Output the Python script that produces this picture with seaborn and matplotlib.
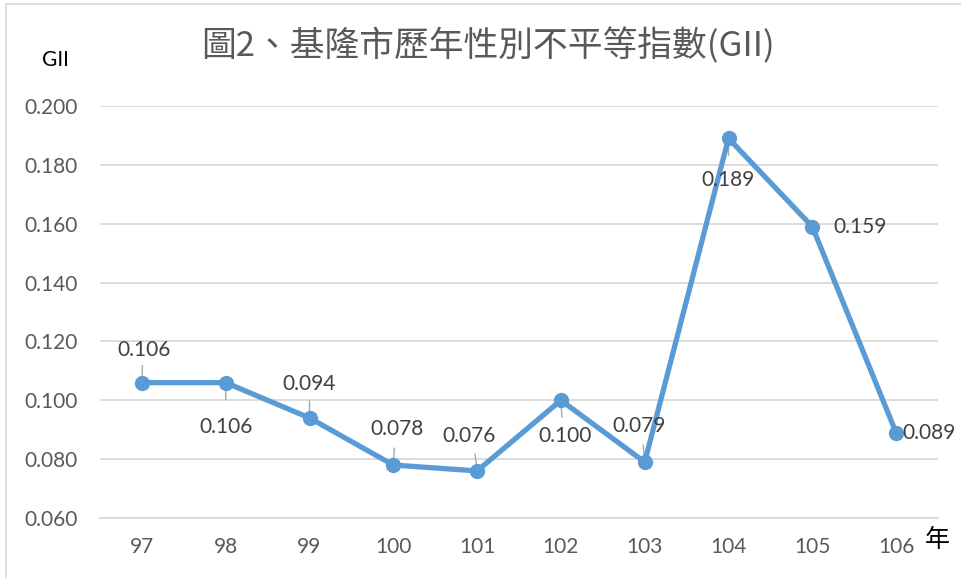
import matplotlib
matplotlib.use("Agg")
import matplotlib.pyplot as plt
import seaborn as sns
import pandas as pd
from matplotlib.lines import Line2D

years = ["97", "98", "99", "100", "101", "102", "103", "104", "105", "106"]
gii = [0.106, 0.106, 0.094, 0.078, 0.076, 0.100, 0.079, 0.189, 0.159, 0.089]
yticks = [0.060, 0.080, 0.100, 0.120, 0.140, 0.160, 0.180, 0.200]
title = "圖2、基隆市歷年性別不平等指數(GII)"

sns.set_theme(style="white")
plt.rcParams['font.family'] = ['Lato', 'Noto Sans CJK TC', 'DejaVu Sans']

df = pd.DataFrame({"year": years, "gii": gii})

fig = plt.figure(figsize=(9.62, 5.78), dpi=100)
W, H = 962, 578
ax = fig.add_axes([100 / W, 1 - 518 / H, 838 / W, 412 / H])

line_color = "#5B9BD5"
sns.lineplot(data=df, x="year", y="gii", ax=ax, color=line_color, linewidth=3.8,
             marker="o", markersize=11, markeredgewidth=0, sort=False)

ax.set_xlim(-0.5, len(years) - 0.5)
ax.set_ylim(0.060, 0.200)
ax.set_yticks(yticks)
ax.set_yticklabels([f"{v:.3f}" for v in yticks])
ax.yaxis.grid(True, color="#D9D9D9", linewidth=1.3)
ax.xaxis.grid(False)
for s in ["top", "right", "left"]:
    ax.spines[s].set_visible(False)
ax.spines["bottom"].set_color("#D9D9D9")
ax.spines["bottom"].set_linewidth(1.3)
ax.tick_params(axis="both", length=0, labelsize=15, labelcolor="#595959")
ax.tick_params(axis="y", pad=16)
ax.tick_params(axis="x", pad=14)
ax.set_xlabel("")
ax.set_ylabel("")

# data label offsets in pixels (dx, dy) relative to the point; positive dy = up
offsets = [(2, 33), (0, -44), (0, 34), (4, 36), (-8, 35), (4, -36), (-6, 36), (0, -42), (48, 0), (33, 0)]
leaders = [True, True, True, True, True, True, True, True, False, False]
to_pts = 72 / 100
for i, (v, (dx, dy), ld) in enumerate(zip(gii, offsets, leaders)):
    ax.annotate(f"{v:.3f}", xy=(i, v), xytext=(dx * to_pts, dy * to_pts),
                textcoords="offset points", ha="center", va="center",
                fontsize=15, color="#404040", zorder=5)
    if ld:
        sgn = 1 if dy > 0 else -1
        ax.annotate("", xy=(i, v), xytext=(dx * 0.25 * to_pts, sgn * 17 * to_pts),
                    textcoords="offset points",
                    arrowprops=dict(arrowstyle="-", color="#A6A6A6", lw=1.0,
                                    shrinkA=0, shrinkB=0), zorder=1)

fig.text(488 / W, 1 - 46 / H, title, ha="center", va="center", fontsize=25,
         color="#595959", family=['Noto Sans CJK TC', 'DejaVu Sans'])
fig.text(55 / W, 1 - 60 / H, "GII", ha="center", va="center", fontsize=15, color="#000000")
fig.text(937 / W, 1 - 540 / H, "年", ha="center", va="center", fontsize=18,
         color="#000000", family=['Noto Sans CJK TC'])

# chart border
fig.add_artist(Line2D([6 / W, 6 / W], [0, 1 - 4 / H], color="#D9D9D9", lw=1.3, transform=fig.transFigure))
fig.add_artist(Line2D([6 / W, 1], [1 - 4 / H, 1 - 4 / H], color="#D9D9D9", lw=1.3, transform=fig.transFigure))

fig.savefig("out.png", dpi=100)
